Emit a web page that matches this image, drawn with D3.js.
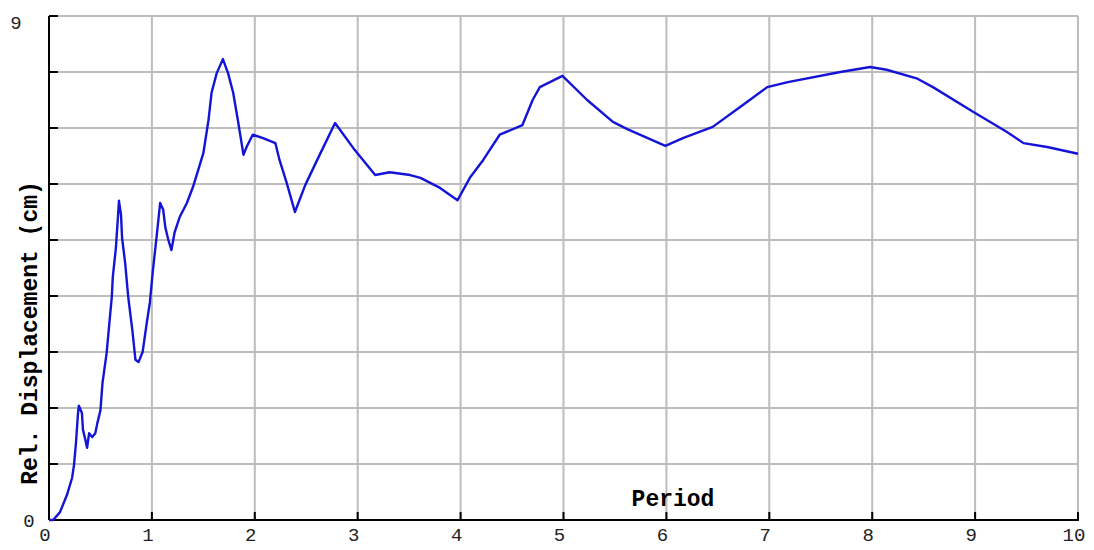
<!DOCTYPE html>
<html>
<head>
<meta charset="utf-8">
<script src="https://cdn.jsdelivr.net/npm/d3@7/dist/d3.min.js"></script>
<style>
  html, body { margin: 0; padding: 0; background: #fff; }
  svg { display: block; }
  .tick-label { font-family: "Liberation Mono", "DejaVu Sans Mono", monospace; font-size: 19px; fill: #222; }
  .axis-title { font-family: "Liberation Mono", "DejaVu Sans Mono", monospace; font-size: 23px; font-weight: bold; fill: #000; }
</style>
</head>
<body>
<svg id="chart" width="1094" height="550"></svg>
<script>
// Response spectrum: relative displacement vs. period
const periods = [0, 0.04, 0.107, 0.175, 0.224, 0.243, 0.262, 0.282, 0.29, 0.32, 0.33, 0.35, 0.37, 0.39, 0.42, 0.45, 0.47, 0.50, 0.52,
  0.56, 0.61, 0.62, 0.65, 0.67, 0.68, 0.70, 0.71, 0.74, 0.77, 0.81, 0.83, 0.84, 0.87, 0.91, 0.95, 0.98, 1.01, 1.05, 1.08,
  1.11, 1.13, 1.16, 1.19, 1.22, 1.27, 1.34, 1.40, 1.50, 1.55, 1.58, 1.63, 1.69, 1.74, 1.79, 1.84, 1.89, 1.92, 1.98, 2.08,
  2.20, 2.24, 2.31, 2.39, 2.49, 2.63, 2.78, 2.97, 3.17, 3.31, 3.51, 3.61, 3.80, 3.97, 4.09, 4.22, 4.38, 4.60, 4.70, 4.77,
  4.99, 5.23, 5.48, 5.62, 5.99, 6.16, 6.45, 6.72, 6.98, 7.18, 7.69, 7.98, 8.14, 8.44, 8.59, 8.98, 9.31, 9.47, 9.70, 10];
const displacement = [0, 0, 0.14, 0.45, 0.75, 0.98, 1.375, 1.91, 2.04, 1.91, 1.61, 1.46, 1.29, 1.55, 1.48, 1.55, 1.73, 1.96, 2.45,
  2.98, 3.98, 4.34, 4.86, 5.41, 5.70, 5.45, 5.04, 4.59, 3.98, 3.39, 3.04, 2.86, 2.82, 3.0, 3.52, 3.88, 4.46, 5.13, 5.66,
  5.54, 5.23, 5.0, 4.82, 5.13, 5.41, 5.66, 5.95, 6.55, 7.14, 7.63, 7.98, 8.23, 7.98, 7.63, 7.09, 6.52, 6.66, 6.88, 6.82,
  6.73, 6.43, 6.02, 5.5, 5.98, 6.52, 7.09, 6.61, 6.16, 6.21, 6.16, 6.11, 5.93, 5.71, 6.11, 6.43, 6.88, 7.05, 7.5, 7.73,
  7.93, 7.5, 7.11, 6.98, 6.68, 6.82, 7.02, 7.38, 7.73, 7.82, 8.0, 8.09, 8.04, 7.88, 7.73, 7.29, 6.93, 6.73, 6.66, 6.54];

const xTicks = [0, 1, 2, 3, 4, 5, 6, 7, 8, 9, 10];
const yGrid = [0, 1, 2, 3, 4, 5, 6, 7, 8, 9];
const yLabels = [0, 9];

const svg = d3.select("#chart");
const plotLeft = 49, plotRight = 1078, plotTop = 16, plotBottom = 520;

const x = d3.scaleLinear().domain([0, 10]).range([plotLeft, plotRight]);
const y = d3.scaleLinear().domain([0, 9]).range([plotBottom, plotTop]);

// grid
svg.append("g").selectAll("line").data(xTicks.slice(1)).join("line")
  .attr("x1", d => x(d)).attr("x2", d => x(d))
  .attr("y1", plotTop).attr("y2", plotBottom)
  .attr("stroke", "#bdbdbd").attr("stroke-width", 2);
svg.append("g").selectAll("line").data(yGrid.slice(1)).join("line")
  .attr("x1", plotLeft).attr("x2", plotRight)
  .attr("y1", d => y(d)).attr("y2", d => y(d))
  .attr("stroke", "#bdbdbd").attr("stroke-width", 2);

// axes lines and ticks
svg.append("line").attr("x1", plotLeft).attr("x2", plotLeft).attr("y1", plotTop).attr("y2", plotBottom)
  .attr("stroke", "#000").attr("stroke-width", 2);
svg.append("line").attr("x1", plotLeft).attr("x2", plotRight + 1).attr("y1", plotBottom).attr("y2", plotBottom)
  .attr("stroke", "#000").attr("stroke-width", 2);
svg.append("g").selectAll("line").data(yGrid.slice(1)).join("line")
  .attr("x1", plotLeft).attr("x2", plotLeft + 9)
  .attr("y1", d => y(d)).attr("y2", d => y(d))
  .attr("stroke", "#000").attr("stroke-width", 2);
svg.append("g").selectAll("line").data(xTicks.slice(1)).join("line")
  .attr("x1", d => x(d)).attr("x2", d => x(d))
  .attr("y1", plotBottom).attr("y2", plotBottom - 8)
  .attr("stroke", "#000").attr("stroke-width", 2);

// tick labels
svg.append("g").selectAll("text").data(xTicks).join("text")
  .attr("class", "tick-label")
  .attr("x", d => x(d) - 4).attr("y", plotBottom + 21)
  .attr("text-anchor", "middle")
  .text(d => d);
svg.append("g").selectAll("text").data(yLabels).join("text")
  .attr("class", "tick-label")
  .attr("x", d => d === 0 ? 29 : 16).attr("y", d => y(d) + (d === 0 ? 7 : 13))
  .attr("text-anchor", "middle")
  .text(d => d);

// axis titles
svg.append("text").attr("class", "axis-title")
  .attr("x", 673).attr("y", 506).attr("text-anchor", "middle").text("Period");
svg.append("text").attr("class", "axis-title")
  .attr("transform", "translate(37,333) rotate(-90)")
  .attr("text-anchor", "middle").text("Rel. Displacement (cm)");

// spectrum curve
const pts = periods.map((p, i) => [p, displacement[i]]);
svg.append("path").datum(pts)
  .attr("fill", "none").attr("stroke", "#1414d6").attr("stroke-width", 2.4)
  .attr("stroke-linejoin", "round")
  .attr("d", d3.line().x(d => x(d[0])).y(d => y(d[1])));
</script>
</body>
</html>
